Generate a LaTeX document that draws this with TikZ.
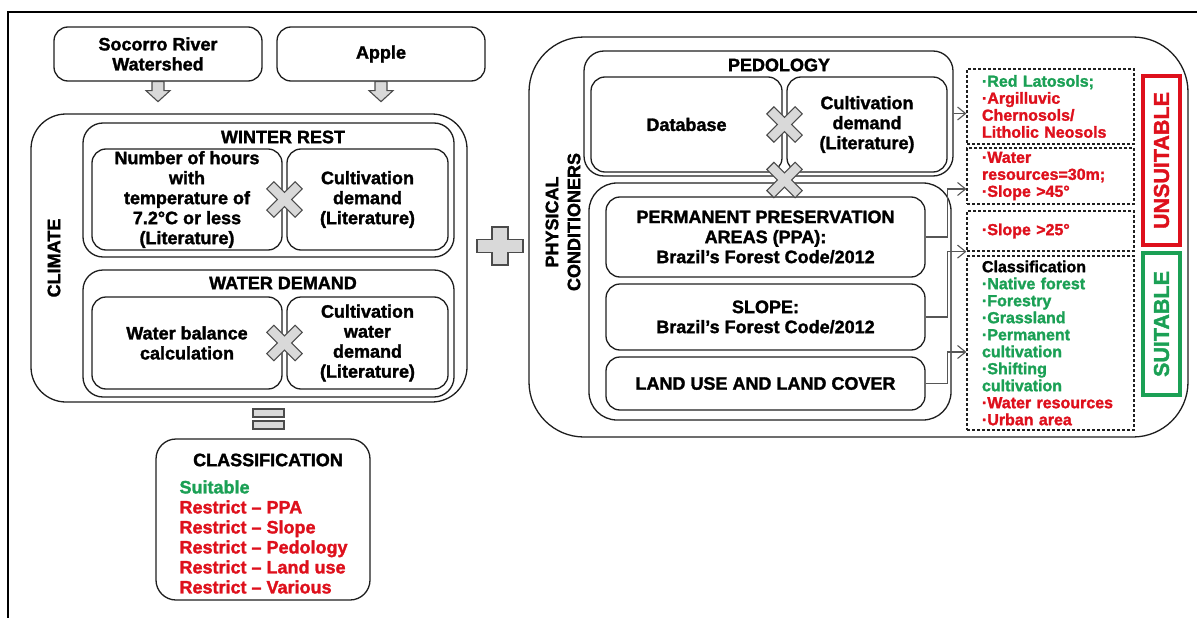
\documentclass[tikz,border=0pt]{standalone}
\usepackage{fontspec}
\setmainfont{Liberation Sans}[BoldFeatures={FakeBold=1.6}]
\usetikzlibrary{arrows.meta}
\definecolor{suitgreen}{RGB}{27,160,85}
\definecolor{unsuitred}{RGB}{222,16,28}
\definecolor{signgray}{RGB}{217,217,217}
\definecolor{edge}{RGB}{30,30,30}
\newcommand{\boxtext}{\fontsize{18}{20}\selectfont\bfseries}
\newcommand{\listtext}{\fontsize{16}{17}\selectfont\bfseries}
\newcommand{\verdicttext}{\fontsize{21.5}{24}\selectfont\bfseries}
\tikzstyle{itembox}=[draw=edge, line width=1.3, rounded corners=14pt, align=center, font=\boxtext, inner sep=0]
\tikzstyle{groupbox}=[itembox, rounded corners=20pt]
\tikzstyle{bigbox}=[itembox, rounded corners=35pt]
\tikzstyle{resultbox}=[draw=edge, line width=1.2, dash pattern=on 3pt off 2pt, align=left, text width=137, inner xsep=15, inner ysep=0, font=\listtext, text=unsuitred]
\tikzstyle{opsign}=[fill=signgray, draw=edge!80, line width=1.1, line join=miter]
\tikzstyle{linkarrow}=[draw=edge!75, line width=1.1, -{Straight Barb[length=8pt,width=13pt]}]
\tikzstyle{verdictbox}=[line width=4, rotate=90, minimum height=37, font=\verdicttext, inner sep=0]
\newcommand{\timessign}[1]{\draw[opsign, shift={#1}, rotate=45] (-5,-20) -- (5,-20) -- (5,-5) -- (20,-5) -- (20,5) -- (5,5) -- (5,20) -- (-5,20) -- (-5,5) -- (-20,5) -- (-20,-5) -- (-5,-5) -- cycle;}
\newcommand{\downsign}[1]{\draw[opsign, shift={#1}] (-6,0) -- (6,0) -- (6,9) -- (12,9) -- (0,20) -- (-12,9) -- (-6,9) -- cycle;}

\begin{document}
\begin{tikzpicture}[x=1pt,y=-1pt]
  \useasboundingbox (0,0) rectangle (1197,618);
  %% Frame
  \draw[line width=2.6] (1197,12) -- (8,12) -- (8,618);

  %% Inputs
  \draw (158,54) node[itembox,minimum width=208,minimum height=54] (river) {Socorro River\\Watershed};
  \draw (381,54) node[itembox,minimum width=208,minimum height=54] (apple) {Apple};

  %% Climate
  \draw (249,258) node[bigbox,minimum width=436,minimum height=288] (climate) {};
  \draw (54,258) node[rotate=90,font=\boxtext] (climatelabel) {CLIMATE};

  \draw (268.5,190) node[groupbox,minimum width=371,minimum height=134] (winter) {};
  \draw (283,137) node[font=\boxtext] (wintertitle) {WINTER REST};
  \draw (187,199.5) node[itembox,minimum width=190,minimum height=101] (hours) {Number of hours\\with\\temperature of\\7.2°C or less\\(Literature)};
  \draw (367.5,199.5) node[itembox,minimum width=161,minimum height=101] (chill) {Cultivation\\demand\\(Literature)};

  \draw (268.5,333.5) node[groupbox,minimum width=371,minimum height=127] (water) {};
  \draw (283,283) node[font=\boxtext] (watertitle) {WATER DEMAND};
  \draw (187,343) node[itembox,minimum width=190,minimum height=92] (balance) {Water balance\\calculation};
  \draw (367.5,343) node[itembox,minimum width=161,minimum height=92] (thirst) {Cultivation\\water\\demand\\(Literature)};

  %% Result
  \draw (263,519.5) node[itembox,rounded corners=20pt,minimum width=214,minimum height=161] (classes) {};
  \draw (268,460) node[font=\boxtext] (classtitle) {CLASSIFICATION};
  \draw (176,537) node[anchor=west,align=left,font=\boxtext,text=unsuitred] (classlist) {\color{suitgreen}Suitable\\\color{unsuitred}Restrict – PPA\\Restrict – Slope\\Restrict – Pedology\\Restrict – Land use\\Restrict – Various};

  %% Physical conditioners
  \draw (858.5,237) node[itembox,rounded corners=55pt,minimum width=659,minimum height=400] (physical) {};
  \draw (563,222) node[rotate=90,align=center,font=\fontsize{18}{22}\selectfont\bfseries] (physlabel) {PHYSICAL\\CONDITIONERS};

  \draw (768.5,113.5) node[groupbox,minimum width=369,minimum height=125] (pedo) {};
  \draw (779,65) node[font=\boxtext] (pedotitle) {PEDOLOGY};
  \draw (686.5,124.5) node[itembox,minimum width=191,minimum height=95] (database) {Database};
  \draw (867,124.5) node[itembox,minimum width=160,minimum height=95] (soilneed) {Cultivation\\demand\\(Literature)};

  \draw (770,301.5) node[itembox,rounded corners=28pt,minimum width=362,minimum height=237] (laws) {};
  \draw (765.5,237) node[itembox,minimum width=319,minimum height=80] (ppa) {PERMANENT PRESERVATION\\AREAS (PPA):\\Brazil’s Forest Code/2012};
  \draw (765.5,317) node[itembox,minimum width=319,minimum height=66] (slope) {SLOPE:\\Brazil’s Forest Code/2012};
  \draw (765.5,383.5) node[itembox,minimum width=319,minimum height=53] (landuse) {LAND USE AND LAND COVER};

  %% Outcomes
  \draw (1050.5,106.5) node[resultbox,minimum height=75] (soils) {\color{suitgreen}·Red Latosols;\\\color{unsuitred}·Argilluvic\\Chernosols/\\Litholic Neosols};
  \draw (1050.5,176) node[resultbox,minimum height=56] (buffer) {·Water\\resources=30m;\\·Slope >45°};
  \draw (1050.5,231) node[resultbox,minimum height=40] (steep) {·Slope >25°};
  \draw (1050.5,343) node[resultbox,minimum height=174] (cover) {\color{black}Classification\\\color{suitgreen}·Native forest\\·Forestry\\·Grassland\\·Permanent\\cultivation\\·Shifting\\cultivation\\\color{unsuitred}·Water resources\\·Urban area};

  \draw (1161.5,160.5) node[verdictbox,draw=unsuitred,text=unsuitred,minimum width=169] (unsuitable) {UNSUITABLE};
  \draw (1161.5,324) node[verdictbox,draw=suitgreen,text=suitgreen,minimum width=142] (suitable) {SUITABLE};

  %% Links
  \draw[linkarrow] (pedo.east) -- (pedo.east -| soils.west);
  \draw[linkarrow] (ppa.east) -- ++(22,0) |- ([yshift=-13pt]buffer.west);
  \draw[linkarrow] (slope.east) -- ++(22,0) |- (steep.south west);
  \draw[linkarrow] (landuse.east) -- ++(22,0) |- ([yshift=-9pt]cover.west);

  %% Operators
  \downsign{(river.south)}
  \downsign{(apple.south)}
  \timessign{(284.5,199.5)}
  \timessign{(284.5,343)}
  \timessign{(784.5,124.5)}
  \timessign{(784.5,180)}
  \draw[opsign, shift={(500,246)}] (-8,-19) -- (8,-19) -- (8,-6.5) -- (23,-6.5) -- (23,6.5) -- (8,6.5) -- (8,19) -- (-8,19) -- (-8,6.5) -- (-23,6.5) -- (-23,-6.5) -- (-8,-6.5) -- cycle;
  \draw[opsign] (253,409) rectangle (284,417);
  \draw[opsign] (253,421) rectangle (284,429);
\end{tikzpicture}
\end{document}
